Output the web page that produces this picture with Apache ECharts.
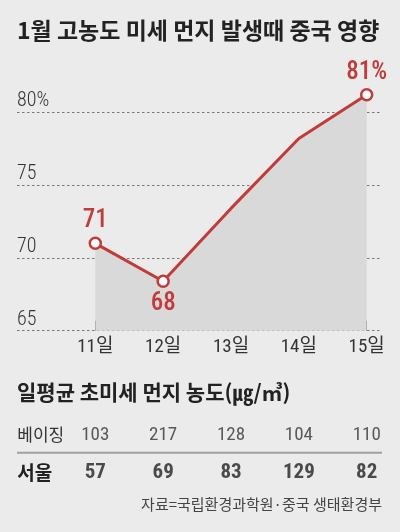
<!DOCTYPE html>
<html>
<head>
<meta charset="utf-8">
<script src="https://cdn.jsdelivr.net/npm/echarts@6/dist/echarts.min.js"></script>
<style>
  html, body { margin: 0; padding: 0; background: #ebebeb; }
  #main { width: 400px; height: 532px; }
</style>
</head>
<body>
<div id="main"></div>
<script>
var days = ['11일', '12일', '13일', '14일', '15일'];
var chinaShare = [71, 68.4, 73.4, 78.2, 81.2];
var pointLabels = ['71', '68', '', '', '81%'];
var yTicks = [65, 70, 75, 80];
var rows = ['베이징', '서울'];
var beijing = [103, 217, 128, 104, 110];
var seoul = [57, 69, 83, 129, 82];

var RED = '#c23b3b';
var NUM_FONT = "'Roboto Condensed', 'Noto Sans CJK KR', sans-serif";
var KR_FONT = "'Noto Sans CJK KR', sans-serif";

var myChart = echarts.init(document.getElementById('main'));

var option = {
    backgroundColor: '#ebebeb',
    animation: false,
    title: [{
        text: '1월 고농도 미세 먼지 발생때 중국 영향',
        left: 17,
        top: 19,
        padding: 0,
        textStyle: {
            fontFamily: KR_FONT,
            fontSize: 23,
            fontWeight: 700,
            color: '#222',
        },
    }, {
        text: '일평균 초미세 먼지 농도(㎍/㎥)',
        left: 17,
        top: 382,
        padding: 0,
        textStyle: {
            fontFamily: KR_FONT,
            fontSize: 21,
            fontWeight: 700,
            color: '#222',
        },
    }, {
        text: '자료=국립환경과학원·중국 생태환경부',
        right: 18,
        top: 497,
        padding: 0,
        textStyle: {
            fontFamily: KR_FONT,
            fontSize: 15,
            fontWeight: 400,
            color: '#444',
        },
    }],
    graphic: [{
        type: 'line',
        shape: { x1: 17, y1: 452.7, x2: 382, y2: 452.7 },
        style: { stroke: '#a0a0a0', lineWidth: 2 },
    }],
    grid: [
        // dashed guide lines, full width
        { left: 17, right: 18, top: 112.3, bottom: 201.3 },
        // the line chart
        { left: 95.3, right: 33.3, top: 83.2, bottom: 201.3 },
        // the table below
        { left: 95.3, right: 33.3, top: 416, height: 76 },
    ],
    xAxis: [{
        gridIndex: 0,
        type: 'value',
        show: false,
    }, {
        gridIndex: 1,
        type: 'category',
        boundaryGap: false,
        data: days,
        axisLine: { show: false },
        axisTick: {
            inside: true,
            length: 10,
            lineStyle: { color: '#555', width: 1 },
        },
        axisLabel: {
            margin: 7,
            fontFamily: NUM_FONT,
            fontSize: 19,
            fontWeight: 400,
            color: '#333',
        },
        splitLine: { show: false },
    }, {
        gridIndex: 2,
        type: 'category',
        boundaryGap: false,
        data: days,
        show: false,
    }],
    yAxis: [{
        gridIndex: 0,
        type: 'value',
        min: yTicks[0],
        max: yTicks[yTicks.length - 1],
        interval: 5,
        axisLine: { show: false },
        axisTick: { show: false },
        axisLabel: {
            inside: true,
            margin: 0,
            verticalAlign: 'bottom',
            padding: [0, 0, 1, 0],
            fontFamily: NUM_FONT,
            fontSize: 20,
            fontWeight: 300,
            color: '#333',
            formatter: function (v) {
                return v === 80 ? v + '%' : v;
            },
        },
        splitLine: {
            lineStyle: { color: '#777', width: 1, type: [2.5, 2.5] },
        },
    }, {
        gridIndex: 1,
        type: 'value',
        min: 65,
        max: 82,
        show: false,
    }, {
        gridIndex: 2,
        type: 'category',
        inverse: true,
        data: rows,
        axisLine: { show: false },
        axisTick: { show: false },
        axisLabel: {
            margin: 0,
            formatter: function (v) {
                return v === rows[1] ? '{b|' + v + '}' : '{a|' + v + '}';
            },
            rich: {
                a: {
                    width: 78, align: 'left',
                    fontFamily: KR_FONT, fontSize: 17, fontWeight: 400, color: '#333',
                },
                b: {
                    width: 78, align: 'left',
                    fontFamily: KR_FONT, fontSize: 19, fontWeight: 700, color: '#222',
                },
            },
        },
        splitLine: { show: false },
    }],
    series: [{
        name: '중국 영향',
        type: 'line',
        xAxisIndex: 1,
        yAxisIndex: 1,
        symbol: 'circle',
        lineStyle: { color: RED, width: 3 },
        itemStyle: { color: '#fff', borderColor: RED, borderWidth: 2.5 },
        areaStyle: { color: '#d9d9d9', opacity: 1, origin: 'start' },
        z: 3,
        data: chinaShare.map(function (v, i) {
            var marked = pointLabels[i] !== '';
            return {
                value: v,
                symbolSize: marked ? 11 : 0,
                label: {
                    show: marked,
                    position: i === 1 ? 'bottom' : 'top',
                    distance: 3,
                    formatter: pointLabels[i],
                    fontFamily: NUM_FONT,
                    fontSize: 25,
                    fontWeight: 500,
                    color: RED,
                },
            };
        }),
    }, {
        name: rows[0],
        type: 'scatter',
        xAxisIndex: 2,
        yAxisIndex: 2,
        symbolSize: 1,
        itemStyle: { color: 'rgba(0,0,0,0)' },
        label: {
            show: true,
            position: 'inside',
            fontFamily: NUM_FONT,
            fontSize: 19,
            fontWeight: 400,
            color: '#333',
            formatter: function (p) { return p.value[2]; },
        },
        data: beijing.map(function (v, i) { return [days[i], rows[0], v]; }),
    }, {
        name: rows[1],
        type: 'scatter',
        xAxisIndex: 2,
        yAxisIndex: 2,
        symbolSize: 1,
        itemStyle: { color: 'rgba(0,0,0,0)' },
        label: {
            show: true,
            position: 'inside',
            fontFamily: NUM_FONT,
            fontSize: 21,
            fontWeight: 700,
            color: '#222',
            formatter: function (p) { return p.value[2]; },
        },
        data: seoul.map(function (v, i) { return [days[i], rows[1], v]; }),
    }],
};
myChart.setOption(option);
</script>
</body>
</html>
